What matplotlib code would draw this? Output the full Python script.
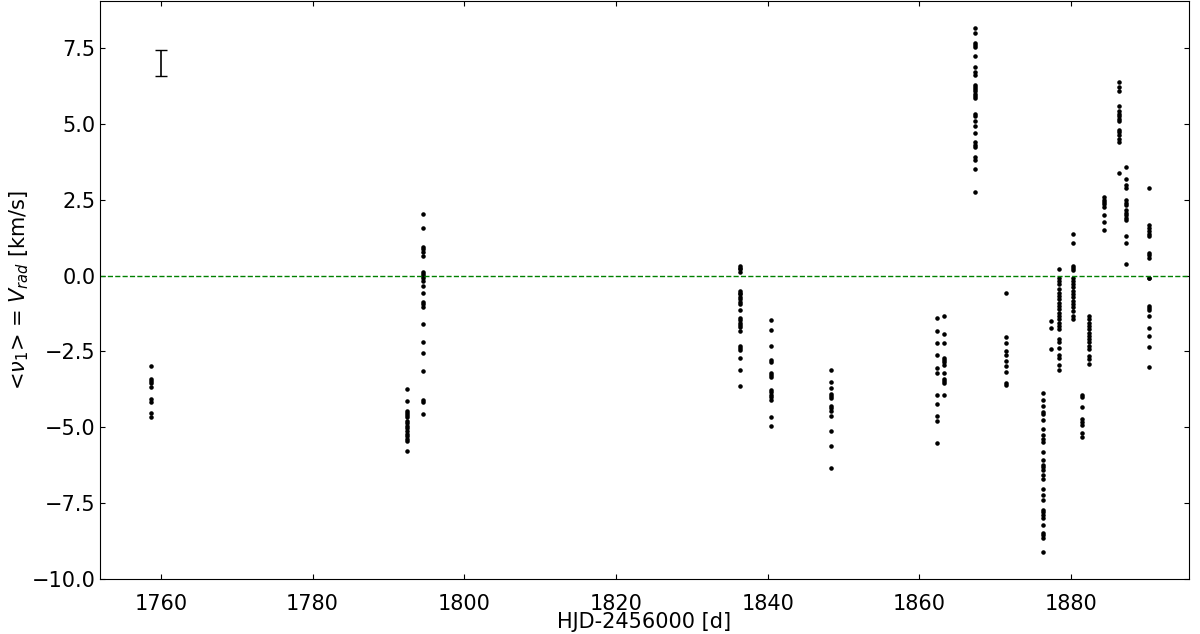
import numpy as np
import matplotlib.pyplot as plt

# observing nights (HJD-2456000) and radial velocities
night_hjd = [1758.7, 1792.5, 1794.5, 1836.3, 1840.4, 1848.3, 1862.3, 1863.3,
             1867.3, 1871.4, 1876.3, 1877.4, 1878.4, 1880.3, 1881.4, 1882.4,
             1884.3, 1886.3, 1887.3, 1890.3]

night_vrad = [
    [-2.97, -3.40, -3.46, -3.55, -3.68, -4.07, -4.18, -4.54, -4.65],
    [-3.75, -4.13, -4.47, -4.53, -4.58, -4.67, -4.78, -4.86, -4.95, -5.02,
     -5.11, -5.22, -5.30, -5.38, -5.46, -5.79],
    [2.04, 1.57, 0.94, 0.87, 0.79, 0.65, 0.13, 0.07, -0.01, -0.09, -0.17,
     -0.33, -0.56, -0.86, -0.94, -1.02, -1.60, -2.18, -2.54, -3.16, -4.09,
     -4.18, -4.55],
    [0.32, 0.26, 0.21, 0.13, -0.50, -0.56, -0.61, -0.70, -0.78, -0.86, -0.92,
     -1.13, -1.41, -1.47, -1.55, -1.62, -1.71, -1.82, -2.31, -2.39, -2.45,
     -2.72, -3.11, -3.63],
    [-1.47, -1.79, -2.31, -2.77, -2.84, -3.21, -3.28, -3.33, -3.76, -3.85,
     -3.92, -4.01, -4.09, -4.65, -4.97],
    [-3.11, -3.52, -3.70, -3.90, -3.98, -4.03, -4.31, -4.38, -4.45, -4.62,
     -5.13, -5.63, -6.33],
    [-1.41, -1.82, -2.22, -2.61, -3.03, -3.22, -3.92, -4.23, -4.62, -4.81,
     -5.53],
    [-1.32, -1.91, -2.22, -2.72, -2.78, -2.86, -2.94, -3.22, -3.41, -3.49,
     -3.54, -3.92],
    [8.18, 7.99, 7.69, 7.61, 7.53, 7.26, 6.88, 6.71, 6.62, 6.30, 6.22, 6.15,
     6.08, 6.00, 5.91, 5.86, 5.34, 5.25, 5.09, 4.95, 4.69, 4.41, 4.32, 4.24,
     3.90, 3.82, 3.52, 2.75],
    [-0.57, -2.02, -2.22, -2.48, -2.61, -2.83, -2.99, -3.17, -3.54, -3.60],
    [-3.87, -4.10, -4.31, -4.51, -4.56, -4.76, -5.05, -5.24, -5.40, -5.49,
     -5.82, -6.07, -6.26, -6.32, -6.40, -6.59, -6.70, -7.03, -7.25, -7.39,
     -7.72, -7.80, -7.88, -7.99, -8.24, -8.49, -8.57, -8.64, -9.13],
    [-1.51, -1.73, -2.42],
    [0.23, -0.07, -0.17, -0.28, -0.45, -0.56, -0.67, -0.78, -0.89, -1.00,
     -1.11, -1.22, -1.33, -1.43, -1.55, -1.65, -1.76, -2.09, -2.20, -2.37,
     -2.61, -2.70, -2.95, -3.11],
    [1.38, 1.09, 0.32, 0.24, 0.18, -0.07, -0.17, -0.28, -0.39, -0.50, -0.61,
     -0.72, -0.83, -0.94, -1.05, -1.16, -1.33, -1.43],
    [-3.92, -4.01, -4.32, -4.72, -4.83, -4.94, -5.20, -5.31],
    [-1.33, -1.43, -1.55, -1.65, -1.76, -1.88, -1.98, -2.09, -2.20, -2.31,
     -2.42, -2.64, -2.75, -2.91],
    [2.59, 2.51, 2.43, 2.35, 2.27, 2.00, 1.78, 1.49],
    [6.40, 6.21, 6.10, 5.61, 5.42, 5.33, 5.25, 5.16, 5.09, 4.79, 4.73, 4.65,
     4.51, 4.41, 3.39],
    [3.60, 3.19, 2.98, 2.89, 2.49, 2.40, 2.33, 2.18, 2.07, 2.00, 1.91, 1.82,
     1.31, 1.09, 0.39],
    [2.88, 1.67, 1.58, 1.47, 1.39, 1.31, 0.76, 0.68, 0.57, -0.07, -0.09,
     -1.00, -1.07, -1.14, -1.33, -1.73, -1.98, -2.35, -3.00],
]

# typical error bar shown in the corner
err_x = 1760.0
err_y = 7.0
err_size = 0.43

hjd = np.concatenate([[t] * len(v) for t, v in zip(night_hjd, night_vrad)])
vrad = np.concatenate(night_vrad)

fig = plt.figure(figsize=(12, 6.34), dpi=100)
ax = fig.add_axes([0.0835, 0.087, 0.907, 0.911])

ax.plot(hjd, vrad, "k.", markersize=4.5)
ax.errorbar(err_x, err_y, yerr=err_size, fmt="none", ecolor="k",
            elinewidth=1.2, capsize=4)
ax.axhline(0, color="green", linestyle="--", linewidth=1)

ax.set_xlim(1752, 1895.5)
ax.set_ylim(-10, 9.05)
ax.tick_params(direction="in", top=True, right=True, labelsize=15)
ax.tick_params(axis="x", pad=11)
ax.set_xlabel("HJD-2456000 [d]", fontsize=15, labelpad=-1.5)
ax.set_ylabel(r"<$\nu_1$> = $V_{rad}$ [km/s]", fontsize=15, labelpad=0)

fig.savefig("out.png", dpi=100)
